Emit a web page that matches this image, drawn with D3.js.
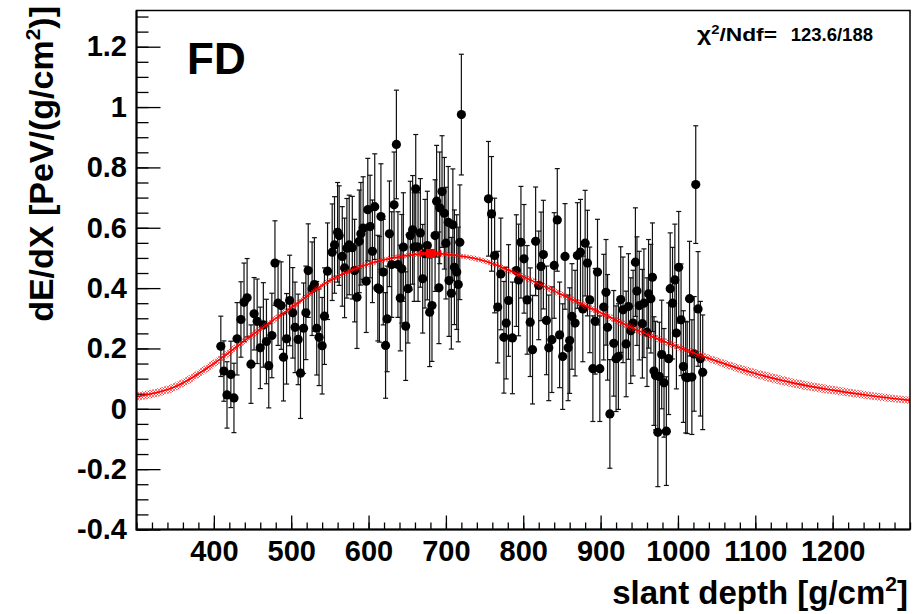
<!DOCTYPE html>
<html>
<head>
<meta charset="utf-8">
<script src="https://cdn.jsdelivr.net/npm/d3@7"></script>
<style>
  body { margin: 0; background: #fff; }
  text { font-family: "Liberation Sans", Helvetica, Arial, sans-serif; font-weight: bold; }
</style>
</head>
<body>
<svg id="chart" width="924" height="614"></svg>
<script>
const depth = [409, 413, 417, 422, 426, 430, 435, 439, 443, 448, 452, 456, 460, 464, 468, 471, 475, 479, 483, 487,
  490, 494, 498, 502, 505, 509, 512, 516, 519, 522, 527, 530, 533, 536, 540, 543, 547, 553, 556, 560,
  562, 566, 569, 572, 575, 579, 582, 585, 588, 590, 593, 597, 599, 602, 605, 608, 612, 614, 616, 619,
  622, 624, 627, 630, 633, 636, 638, 641, 643, 645, 648, 651, 654, 657, 659, 661, 664, 667, 670, 673,
  676, 679, 682, 686, 688, 691, 692, 695, 698, 700, 703, 704, 707, 709, 711, 714, 716, 718, 720,
  755, 759, 763, 767, 771, 775, 778, 781, 786, 791, 794, 797, 801, 805, 809, 812, 816, 820, 823, 826,
  830, 833, 837, 840, 844, 847, 851, 854, 858, 860, 863, 867, 870, 874, 877, 880, 883, 886, 890, 893,
  896, 899, 904, 907, 909, 912, 917, 920, 923, 926, 929, 933, 936, 939, 942, 945, 947, 950, 954, 956,
  960, 962, 965, 967, 969, 971, 974, 976, 979, 982, 985, 988, 990, 993, 996, 998, 1001, 1004, 1007, 1010,
  1012, 1015, 1018, 1021, 1023, 1026, 1029, 1032];
const dedx = [0.207, 0.125, 0.046, 0.114, 0.036, 0.232, 0.296, 0.353, 0.368, 0.148, 0.315, 0.290, 0.202, 0.278, 0.223, 0.143, 0.243, 0.483, 0.350, 0.342,
  0.171, 0.232, 0.359, 0.318, 0.270, 0.230, 0.118, 0.267, 0.318, 0.458, 0.398, 0.412, 0.267, 0.237, 0.209, 0.307, 0.456, 0.519, 0.543, 0.585,
  0.574, 0.505, 0.467, 0.532, 0.543, 0.534, 0.458, 0.370, 0.555, 0.580, 0.599, 0.423, 0.660, 0.604, 0.522, 0.670, 0.400, 0.396, 0.637, 0.453,
  0.210, 0.298, 0.580, 0.478, 0.676, 0.876, 0.478, 0.367, 0.464, 0.536, 0.274, 0.398, 0.574, 0.593, 0.536, 0.729, 0.536, 0.583, 0.431, 0.514,
  0.541, 0.320, 0.342, 0.574, 0.688, 0.401, 0.666, 0.720, 0.648, 0.549, 0.618, 0.425, 0.383, 0.610, 0.469, 0.453, 0.412, 0.552, 0.975,
  0.696, 0.646, 0.508, 0.337, 0.447, 0.237, 0.284, 0.359, 0.235, 0.458, 0.427, 0.552, 0.497, 0.361, 0.287, 0.196, 0.555, 0.409, 0.472, 0.511,
  0.293, 0.202, 0.229, 0.475, 0.626, 0.245, 0.173, 0.505, 0.202, 0.226, 0.306, 0.284, 0.508, 0.519, 0.331, 0.549, 0.483, 0.361, 0.133, 0.290,
  0.453, 0.133, 0.337, 0.386, 0.270, -0.017, 0.217, 0.166, 0.173, 0.362, 0.328, 0.215, 0.339, 0.259, 0.284, 0.486, 0.390, 0.342, 0.282, 0.350,
  0.254, 0.381, 0.365, 0.436, 0.125, 0.110, -0.078, 0.107, 0.180, 0.086, -0.074, 0.166, 0.398, 0.350, 0.427, 0.251, 0.469, 0.295, 0.140, 0.105,
  0.103, 0.365, 0.105, 0.182, 0.743, 0.331, 0.166, 0.121];
const dedxErr = [0.100, 0.100, 0.110, 0.110, 0.115, 0.120, 0.125, 0.130, 0.130, 0.130, 0.120, 0.140, 0.135, 0.140, 0.140, 0.140, 0.140, 0.140, 0.140, 0.145,
  0.145, 0.150, 0.150, 0.150, 0.150, 0.150, 0.150, 0.150, 0.155, 0.155, 0.155, 0.155, 0.155, 0.160, 0.160, 0.160, 0.160, 0.160, 0.160, 0.165,
  0.165, 0.165, 0.165, 0.165, 0.165, 0.170, 0.170, 0.170, 0.170, 0.170, 0.170, 0.170, 0.170, 0.170, 0.170, 0.175, 0.175, 0.175, 0.175, 0.175,
  0.175, 0.175, 0.175, 0.175, 0.175, 0.180, 0.175, 0.175, 0.180, 0.180, 0.180, 0.180, 0.180, 0.180, 0.180, 0.180, 0.180, 0.180, 0.180, 0.180,
  0.180, 0.180, 0.185, 0.185, 0.185, 0.185, 0.185, 0.185, 0.185, 0.185, 0.185, 0.185, 0.185, 0.185, 0.190, 0.190, 0.190, 0.190, 0.200,
  0.190, 0.190, 0.190, 0.185, 0.185, 0.185, 0.185, 0.185, 0.185, 0.185, 0.185, 0.185, 0.180, 0.180, 0.180, 0.180, 0.180, 0.180, 0.180, 0.180,
  0.180, 0.175, 0.175, 0.175, 0.170, 0.175, 0.175, 0.175, 0.175, 0.175, 0.175, 0.175, 0.175, 0.175, 0.175, 0.175, 0.175, 0.175, 0.175, 0.175,
  0.175, 0.175, 0.175, 0.175, 0.175, 0.180, 0.175, 0.175, 0.175, 0.175, 0.175, 0.175, 0.175, 0.175, 0.175, 0.180, 0.180, 0.180, 0.180, 0.180,
  0.180, 0.180, 0.180, 0.180, 0.180, 0.180, 0.180, 0.180, 0.180, 0.180, 0.180, 0.185, 0.185, 0.185, 0.185, 0.185, 0.185, 0.185, 0.185, 0.185,
  0.185, 0.190, 0.190, 0.190, 0.195, 0.190, 0.190, 0.190];

// fitted profile and its error band
const fitDepth = [300, 350, 400, 450, 500, 550, 600, 650, 680, 700, 750, 800, 850, 900, 950, 1000, 1050, 1100, 1150, 1200, 1250, 1300];
const fitValue = [0.040, 0.073, 0.150, 0.245, 0.335, 0.425, 0.480, 0.508, 0.515, 0.512, 0.490, 0.438, 0.378, 0.318, 0.258, 0.205, 0.158, 0.117, 0.085, 0.062, 0.043, 0.028];
const fitBand = [0.014, 0.014, 0.014, 0.012, 0.011, 0.010, 0.009, 0.008, 0.008, 0.008, 0.009, 0.010, 0.011, 0.012, 0.012, 0.012, 0.013, 0.015, 0.015, 0.014, 0.013, 0.012];

// shower maximum
const xmaxDepth = [680];
const xmaxValue = [0.515];
const xmaxDepthErr = [13];
const xmaxValueErr = [0.012];

const xTicks = [400, 500, 600, 700, 800, 900, 1000, 1100, 1200];
const yTicks = [-0.4, -0.2, 0, 0.2, 0.4, 0.6, 0.8, 1, 1.2];

const svg = d3.select("#chart");
svg.append("rect").attr("width", 924).attr("height", 614).attr("fill", "#fff");

const x = d3.scaleLinear().domain([300, 1300]).range([136.5, 910]);
const y = d3.scaleLinear().domain([-0.4, 1.32]).range([529.5, 10.5]);

const defs = svg.append("defs");
const pat = defs.append("pattern")
  .attr("id", "hatch")
  .attr("patternUnits", "userSpaceOnUse")
  .attr("width", 3)
  .attr("height", 3);
pat.append("path")
  .attr("d", "M0,0 L3,3 M3,0 L0,3")
  .attr("stroke", "#ff0000")
  .attr("stroke-width", 0.7)
  .attr("stroke-opacity", 0.8);

// axes: ticks inside the frame
svg.append("g")
  .attr("transform", "translate(0,529.5)")
  .call(d3.axisBottom(x).tickValues(d3.range(300, 1301, 20)).tickSize(-7).tickFormat(""))
  .call(g => g.select(".domain").remove())
  .selectAll("line").attr("stroke", "#000").attr("stroke-width", 1.3);
const xAxis = svg.append("g")
  .attr("transform", "translate(0,529.5)")
  .call(d3.axisBottom(x).tickValues(xTicks).tickSize(-14).tickPadding(11).tickFormat(d => String(d)));
xAxis.select(".domain").remove();
xAxis.selectAll("line").attr("stroke", "#000").attr("stroke-width", 1.3);
xAxis.selectAll("text").attr("font-size", 29).attr("fill", "#000")
  .style("font-family", "'Liberation Sans', Helvetica, Arial, sans-serif").style("font-weight", "bold");

svg.append("g")
  .attr("transform", "translate(136.5,0)")
  .call(d3.axisLeft(y).tickValues(d3.range(0, 35).map(i => -0.4 + i * 0.05)).tickSize(-12).tickFormat(""))
  .call(g => g.select(".domain").remove())
  .selectAll("line").attr("stroke", "#000").attr("stroke-width", 1.3);
const yAxis = svg.append("g")
  .attr("transform", "translate(136.5,0)")
  .call(d3.axisLeft(y).tickValues(yTicks).tickSize(-24).tickPadding(9.5).tickFormat(d => String(d)));
yAxis.select(".domain").remove();
yAxis.selectAll("line").attr("stroke", "#000").attr("stroke-width", 1.3);
yAxis.selectAll("text").attr("font-size", 29).attr("fill", "#000")
  .style("font-family", "'Liberation Sans', Helvetica, Arial, sans-serif").style("font-weight", "bold");

// data points with error bars
const pts = d3.range(depth.length).map(i => ({ d: depth[i], v: dedx[i], e: dedxErr[i] }));
const pg = svg.append("g");
pg.selectAll(".bar").data(pts).enter().append("line")
  .attr("x1", p => x(p.d)).attr("x2", p => x(p.d))
  .attr("y1", p => y(p.v - p.e)).attr("y2", p => y(p.v + p.e))
  .attr("stroke", "#111").attr("stroke-width", 1.2);
pg.selectAll(".capt").data(pts).enter().append("line")
  .attr("x1", p => x(p.d) - 2.5).attr("x2", p => x(p.d) + 2.5)
  .attr("y1", p => y(p.v + p.e)).attr("y2", p => y(p.v + p.e))
  .attr("stroke", "#111").attr("stroke-width", 1.2);
pg.selectAll(".capb").data(pts).enter().append("line")
  .attr("x1", p => x(p.d) - 2.5).attr("x2", p => x(p.d) + 2.5)
  .attr("y1", p => y(p.v - p.e)).attr("y2", p => y(p.v - p.e))
  .attr("stroke", "#111").attr("stroke-width", 1.2);
pg.selectAll("circle").data(pts).enter().append("circle")
  .attr("cx", p => x(p.d)).attr("cy", p => y(p.v))
  .attr("r", 4.6).attr("fill", "#000");

// fit band and line
const fit = d3.range(fitDepth.length).map(i => ({ d: fitDepth[i], v: fitValue[i], b: fitBand[i] }));
svg.append("path")
  .datum(fit)
  .attr("d", d3.area().curve(d3.curveMonotoneX)
    .x(p => x(p.d)).y0(p => y(p.v - p.b)).y1(p => y(p.v + p.b)))
  .attr("fill", "url(#hatch)");
svg.append("path")
  .datum(fit)
  .attr("d", d3.line().curve(d3.curveMonotoneX).x(p => x(p.d)).y(p => y(p.v)))
  .attr("fill", "none")
  .attr("stroke", "#ff0000")
  .attr("stroke-width", 1.6);

// Xmax marker
const mx = svg.append("g");
mx.append("line")
  .attr("x1", x(xmaxDepth[0] - xmaxDepthErr[0])).attr("x2", x(xmaxDepth[0] + xmaxDepthErr[0]))
  .attr("y1", y(xmaxValue[0])).attr("y2", y(xmaxValue[0]))
  .attr("stroke", "#ff0000").attr("stroke-width", 2.5);
[xmaxDepth[0] - xmaxDepthErr[0], xmaxDepth[0] + xmaxDepthErr[0]].forEach(d => {
  mx.append("line")
    .attr("x1", x(d)).attr("x2", x(d))
    .attr("y1", y(xmaxValue[0]) - 3.5).attr("y2", y(xmaxValue[0]) + 3.5)
    .attr("stroke", "#ff0000").attr("stroke-width", 1.5);
});
mx.append("line")
  .attr("x1", x(xmaxDepth[0])).attr("x2", x(xmaxDepth[0]))
  .attr("y1", y(xmaxValue[0] - xmaxValueErr[0])).attr("y2", y(xmaxValue[0] + xmaxValueErr[0]))
  .attr("stroke", "#ff0000").attr("stroke-width", 2);
mx.append("rect")
  .attr("x", x(xmaxDepth[0]) - 4.5).attr("y", y(xmaxValue[0]) - 4.5)
  .attr("width", 9).attr("height", 9)
  .attr("fill", "#ff0000");

// frame
svg.append("rect")
  .attr("x", 136.5).attr("y", 10.5)
  .attr("width", 910 - 136.5).attr("height", 529.5 - 10.5)
  .attr("fill", "none").attr("stroke", "#000").attr("stroke-width", 1.5);
svg.append("path")
  .attr("d", "M136.5,10.5 V529.5 H910")
  .attr("fill", "none").attr("stroke", "#000").attr("stroke-width", 2);

// labels
svg.append("text").attr("x", 187).attr("y", 74).attr("font-size", 44).text("FD");

const chi = svg.append("text").attr("x", 697).attr("y", 41)
  .attr("font-size", 18.5).attr("textLength", 80).attr("lengthAdjust", "spacingAndGlyphs");
chi.append("tspan").attr("font-size", 20).text("χ");
chi.append("tspan").attr("font-size", 12).attr("dy", -7).text("2");
chi.append("tspan").attr("dy", 7).text("/Ndf=");
svg.append("text").attr("x", 873).attr("y", 41).attr("text-anchor", "end")
  .attr("font-size", 18.5).text("123.6/188");

const xt = svg.append("text").attr("x", 908).attr("y", 604).attr("text-anchor", "end").attr("font-size", 33);
xt.append("tspan").text("slant depth [g/cm");
xt.append("tspan").attr("font-size", 21).attr("dy", -13).text("2");
xt.append("tspan").attr("dy", 13).text("]");

const yt = svg.append("text").attr("transform", "translate(53,6) rotate(-90)")
  .attr("text-anchor", "end").attr("font-size", 34);
yt.append("tspan").text("dE/dX [PeV/(g/cm");
yt.append("tspan").attr("font-size", 21).attr("dy", -13).text("2");
yt.append("tspan").attr("dy", 13).text(")]");
</script>
</body>
</html>
